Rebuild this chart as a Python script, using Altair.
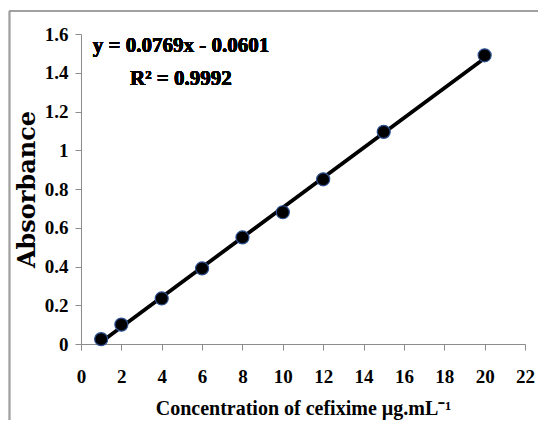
import altair as alt
import pandas as pd

conc = [1, 2, 4, 6, 8, 10, 12, 15, 20]
absorbance = [0.025, 0.10, 0.235, 0.39, 0.55, 0.68, 0.85, 1.095, 1.49]
x_ticks = [0, 2, 4, 6, 8, 10, 12, 14, 16, 18, 20, 22]
y_ticks = [0, 0.2, 0.4, 0.6, 0.8, 1.0, 1.2, 1.4, 1.6]
eq_lines = ["y = 0.0769x - 0.0601", "R² = 0.9992"]

df = pd.DataFrame({"x": conc, "y": absorbance})

serif = "Liberation Serif"
axis_gray = "#8c8c8c"

xs = alt.Scale(domain=[0, 22], nice=False, zero=False)
ys = alt.Scale(domain=[0, 1.6], nice=False)

xaxis = alt.Axis(
    values=x_ticks, tickCount=30, title="Concentration of cefixime µg.mL⁻¹", grid=False,
    domainColor=axis_gray, tickColor=axis_gray, tickSize=6, labelPadding=17,
    labelFont=serif, labelFontSize=19, labelFontWeight="bold", labelColor="black",
    labelOverlap=False,
    titleFont=serif, titleFontSize=20, titleFontWeight="bold", titleColor="black",
    titleX=222, titleY=64, titleBaseline="middle", labelFlush=False)
yaxis = alt.Axis(
    values=y_ticks, tickCount=30, format="~g", title="Absorbance", grid=False,
    domainColor=axis_gray, tickColor=axis_gray, tickSize=6, labelPadding=7,
    labelFont=serif, labelFontSize=19, labelFontWeight="bold", labelColor="black",
    labelOverlap=False,
    titleFont="DejaVu Serif", titleFontSize=24, titleFontWeight="bold", titleColor="black",
    titleX=-54, titleY=155, titleAngle=270, titleAlign="center", titleBaseline="middle",
    labelFlush=False)

xenc = alt.X("x:Q", scale=xs, axis=xaxis)
yenc = alt.Y("y:Q", scale=ys, axis=yaxis)

base = alt.Chart(df)

line = base.transform_regression("x", "y", extent=[1, 20]).mark_line(
    color="black", strokeWidth=3.8).encode(x=xenc, y=yenc)

pts = base.mark_point(filled=True, size=170, fill="black", stroke="#2b4f8f",
                      strokeWidth=1.2, opacity=1).encode(x=xenc, y=yenc)

eq1 = alt.Chart(df).mark_text(font=serif, fontSize=21, fontWeight="bold",
                              color="black", align="center", baseline="middle").encode(
    x=alt.datum(4.95), y=alt.datum(1.538), text=alt.value(eq_lines[0]))
eq2 = alt.Chart(df).mark_text(font=serif, fontSize=21, fontWeight="bold",
                              color="black", align="center", baseline="middle").encode(
    x=alt.datum(4.95), y=alt.datum(1.368), text=alt.value(eq_lines[1]))

frame_v = alt.Chart(df).mark_rule(color="#a0a0a0", strokeWidth=1.2).encode(
    x=alt.value(-71.5), y=alt.value(-23), y2=alt.value(400))
frame_h = alt.Chart(df).mark_rule(color="#a0a0a0", strokeWidth=1.2).encode(
    x=alt.value(-71.5), x2=alt.value(480), y=alt.value(-23))

chart = alt.layer(frame_v, frame_h, line, pts, eq1, eq2).properties(
    width=444, height=310,
    autosize=alt.AutoSizeParams(type="none"),
    padding={"left": 73, "top": 26, "right": 13, "bottom": 76},
    background="white",
).configure_view(stroke=None)

chart.save("out.html", embed_options={"renderer": "svg", "actions": False})
